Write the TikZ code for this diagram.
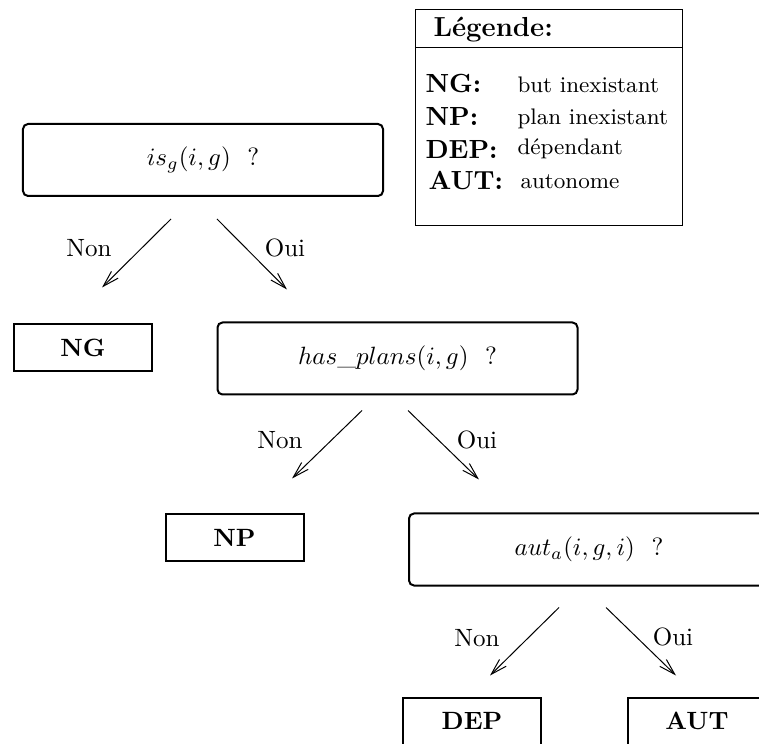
\documentclass[tikz,border=0pt]{standalone}
\usetikzlibrary{arrows.meta,calc}
\begin{document}
\begin{tikzpicture}[x=0.4pt,y=-0.4pt,
  question/.style={draw, line width=0.8pt, rounded corners=2pt,
    minimum width=144pt, minimum height=28.8pt, inner sep=0pt},
  answer/.style={draw, line width=0.8pt, minimum width=55.2pt,
    minimum height=18.8pt, inner sep=0pt, font=\bfseries},
  branch/.style={-{Straight Barb[length=6.5pt,width=3.8pt]}, line width=0.4pt},
  choice/.style={inner sep=0pt},
  keyname/.style={inner sep=0pt, anchor=base west, font=\fontsize{10.5}{12}\selectfont\bfseries},
  keytext/.style={inner sep=0pt, anchor=base west, font=\fontsize{9}{11}\selectfont},
]
\useasboundingbox (0,0) rectangle (759,744);

% decision boxes
\node[question] (q1) at (203,160)   {$is_g(i,g)$\ \ ?};
\node[question] (q2) at (397.5,358.5) {$has\_plans(i,g)$\ \ ?};
\node[question] (q3) at (589,549.5) {$aut_a(i,g,i)$\ \ ?};

% outcomes
\node[answer] (ng)  at (83,348)   {NG};
\node[answer] (np)  at (234.5,538) {NP};
\node[answer] (dep) at (472,721)  {DEP};
\node[answer] (aut) at (697,721)  {AUT};

% branches
\draw[branch] ($(q1.south)+(-32,22)$)  -- ($(ng.north)+(19,-36)$);
\draw[branch] ($(q1.south)+(14,22)$)   -- ($(q2.north)+(-110.5,-32)$);
\draw[branch] ($(q2.south)+(-35.5,15)$) -- ($(np.north)+(57.5,-35)$);
\draw[branch] ($(q2.south)+(10.5,15)$) -- ($(q3.north)+(-110,-33)$);
\draw[branch] ($(q3.south)+(-30,21)$)  -- ($(dep.north)+(18,-21)$);
\draw[branch] ($(q3.south)+(17,21)$)   -- ($(aut.north)+(-21,-21)$);

% branch labels
\node[choice] (n1) at (89,248)  {Non};
\node[choice] (o1) at (285,248) {Oui};
\node[choice] (n2) at (280,440) {Non};
\node[choice] (o2) at (477,440) {Oui};
\node[choice] (n3) at (477,638) {Non};
\node[choice] (o3) at (673,637) {Oui};

% legend
\node[draw, line width=0.4pt, anchor=north west, minimum width=106.8pt,
  minimum height=86.4pt, inner sep=0pt] (legend) at (415,9) {};
\coordinate (hl) at (415,48);
\coordinate (hr) at (682,48);
\draw[line width=0.4pt] (hl) -- (hr);
\node[keyname, font=\fontsize{11}{13}\selectfont\bfseries] (title) at (433,37) {Légende:};
\node[keyname] (k1) at (425,93)  {NG:};
\node[keyname] (k2) at (425,126) {NP:};
\node[keyname] (k3) at (425,159) {DEP:};
\node[keyname] (k4) at (428,190) {AUT:};
\node[keytext] (t1) at (517,93)  {but inexistant};
\node[keytext] (t2) at (517,125) {plan inexistant};
\node[keytext] (t3) at (517,155) {dépendant};
\node[keytext] (t4) at (520,189) {autonome};
\end{tikzpicture}
\end{document}
